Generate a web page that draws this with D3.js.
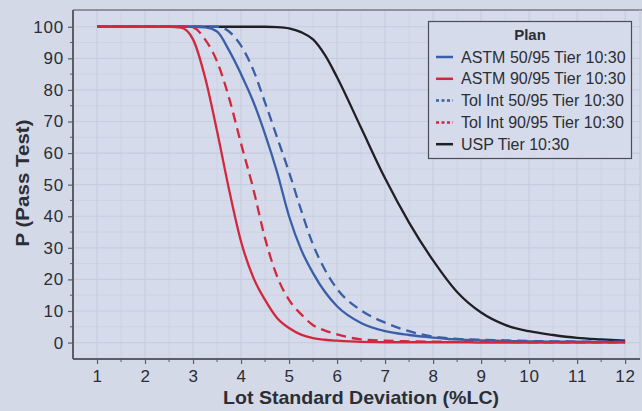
<!DOCTYPE html>
<html><head><meta charset="utf-8">
<script src="https://cdn.jsdelivr.net/npm/d3@7"></script>
<style>
html,body{margin:0;padding:0;background:#d4d9e8;}
svg{display:block;font-family:"Liberation Sans",Arial,sans-serif;}
</style></head>
<body><svg id="chart" width="642" height="411"></svg>
<script>
const xs = [1, 2, 2.5, 2.75, 3, 3.25, 3.5, 3.75, 4, 4.25, 4.5, 4.75, 5, 5.25, 5.5, 5.75, 6, 6.5, 7, 7.5, 8, 8.5, 9, 9.5, 10, 10.5, 11, 11.5, 12];
const astm5095 = [100, 100, 100, 100, 100, 99.8, 98.5, 92.5, 85, 76.5, 66, 54, 40, 29.5, 22, 16, 11.5, 6.2, 3.6, 2.4, 1.6, 1.0, 0.7, 0.5, 0.4, 0.3, 0.3, 0.2, 0.2];
const astm9095 = [100, 100, 100, 99.7, 96, 84, 67, 48.5, 32, 20.8, 13.5, 7.8, 4.6, 2.5, 1.4, 0.9, 0.6, 0.2, 0.1, 0.1, 0.1, 0.1, 0, 0, 0, 0, 0, 0, 0];
const tol5095 = [100, 100, 100, 100, 100, 100, 100, 98.5, 94, 86.5, 76, 65, 54, 42, 31, 23, 17, 10.2, 6.3, 3.6, 1.9, 1.2, 0.9, 0.7, 0.5, 0.4, 0.3, 0.3, 0.3];
const tol9095 = [100, 100, 100, 100, 99.7, 96, 89, 77.5, 63, 49, 33, 21, 13.5, 9, 5.5, 3.8, 2.6, 1.0, 0.6, 0.4, 0.3, 0.2, 0.2, 0.2, 0.1, 0.1, 0.1, 0.1, 0.1];
const usp = [100, 100, 100, 100, 100, 100, 100, 100, 100, 100, 100, 99.9, 99.5, 98.3, 96, 91, 84, 68, 52, 38, 26, 16, 9.5, 5.6, 3.6, 2.4, 1.5, 1.0, 0.6];
const seriesNames = ["ASTM 50/95 Tier 10:30", "ASTM 90/95 Tier 10:30", "Tol Int 50/95 Tier 10:30", "Tol Int 90/95 Tier 10:30", "USP Tier 10:30"];
const xTicks = [1,2,3,4,5,6,7,8,9,10,11,12];
const yTicks = [0,10,20,30,40,50,60,70,80,90,100];

const series = [
  {name: seriesNames[0], values: astm5095, color: "#3b5fa6", dash: null},
  {name: seriesNames[1], values: astm9095, color: "#d2283e", dash: null},
  {name: seriesNames[2], values: tol5095, color: "#3b5fa6", dash: "10,6"},
  {name: seriesNames[3], values: tol9095, color: "#d2283e", dash: "10,6"},
  {name: seriesNames[4], values: usp, color: "#1f1f24", dash: null}
];

const svg = d3.select("#chart");
const L = 73, R = 640, T = 10, B = 359;
const x = d3.scaleLinear().domain([0.5, 12.31]).range([L, R]);
const y = d3.scaleLinear().domain([-5.2, 105.3]).range([B, T]);

svg.append("rect").attr("x", L).attr("y", T).attr("width", R - L).attr("height", B - T).attr("fill", "#d5dbea");

const g = svg.append("g");
const minorX = d3.range(1.5, 12.4, 1);
const minorY = d3.range(-5, 105, 10);
g.selectAll(".mx").data(minorX).enter().append("line")
  .attr("x1", d => x(d)).attr("x2", d => x(d)).attr("y1", T).attr("y2", B)
  .attr("stroke", "#cdd3e3").attr("stroke-width", 1);
g.selectAll(".my").data(minorY).enter().append("line")
  .attr("y1", d => y(d)).attr("y2", d => y(d)).attr("x1", L).attr("x2", R)
  .attr("stroke", "#cdd3e3").attr("stroke-width", 1);
g.selectAll(".gx").data(xTicks).enter().append("line")
  .attr("x1", d => x(d)).attr("x2", d => x(d)).attr("y1", T).attr("y2", B)
  .attr("stroke", "#c6cddf").attr("stroke-width", 1.2);
g.selectAll(".gy").data(yTicks).enter().append("line")
  .attr("y1", d => y(d)).attr("y2", d => y(d)).attr("x1", L).attr("x2", R)
  .attr("stroke", "#c6cddf").attr("stroke-width", 1.2);

svg.append("line").attr("x1", L).attr("x2", 642).attr("y1", T).attr("y2", T).attr("stroke", "#8d929e").attr("stroke-width", 2);
svg.append("line").attr("x1", R).attr("x2", R).attr("y1", T).attr("y2", B).attr("stroke", "#c3c9d9").attr("stroke-width", 1);

const line = d3.line().x((d, i) => x(xs[i])).y(d => y(d)).curve(d3.curveMonotoneX);
const order = [4, 2, 0, 3, 1];
order.forEach(k => {
  const s = series[k];
  svg.append("path").datum(s.values).attr("d", line)
    .attr("fill", "none").attr("stroke", s.color).attr("stroke-width", 2.3)
    .attr("stroke-dasharray", s.dash).attr("stroke-linejoin", "round");
});

const axisColor = "#5a5e68";
const xAxis = d3.axisBottom(x).tickValues(xTicks).tickSize(5).tickPadding(6).tickFormat(d3.format("d"));
const xa = svg.append("g").attr("transform", `translate(0,${B})`).call(xAxis);
xa.select(".domain").attr("d", `M${L},0H${R}`);
const xMinor = svg.append("g").attr("transform", `translate(0,${B})`);
xMinor.selectAll("line").data(minorX).enter().append("line")
  .attr("x1", d => x(d)).attr("x2", d => x(d)).attr("y1", 0).attr("y2", 3).attr("stroke", axisColor);

const yAxis = d3.axisLeft(y).tickValues(yTicks).tickSize(5).tickPadding(4);
const ya = svg.append("g").attr("transform", `translate(${L},0)`).call(yAxis);
ya.select(".domain").attr("d", `M0,${T}V${B}`);
const yMinor = svg.append("g").attr("transform", `translate(${L},0)`);
yMinor.selectAll("line").data(d3.range(5, 100, 10)).enter().append("line")
  .attr("y1", d => y(d)).attr("y2", d => y(d)).attr("x1", 0).attr("x2", -3).attr("stroke", axisColor);

[xa, ya].forEach(a => {
  a.selectAll(".domain").attr("stroke", axisColor).attr("stroke-width", 2);
  a.selectAll(".tick line").attr("stroke", axisColor).attr("stroke-width", 1.2);
  a.selectAll(".tick text").attr("fill", "#2b2e35").attr("font-size", 17).attr("letter-spacing", "0.8px")
    .attr("font-family", "Liberation Sans, Arial, sans-serif");
});

svg.append("text").attr("x", x(6.5)).attr("y", 404).attr("text-anchor", "middle")
  .attr("font-size", 19).attr("font-weight", "bold").attr("fill", "#2b2e35")
  .attr("textLength", 276).attr("lengthAdjust", "spacingAndGlyphs")
  .text("Lot Standard Deviation (%LC)");
svg.append("text").attr("transform", `translate(29,183) rotate(-90)`).attr("text-anchor", "middle")
  .attr("font-size", 19).attr("font-weight", "bold").attr("fill", "#2b2e35")
  .attr("textLength", 127).attr("lengthAdjust", "spacingAndGlyphs")
  .text("P (Pass Test)");

const lg = svg.append("g");
lg.append("rect").attr("x", 428.5).attr("y", 21.5).attr("width", 203).attr("height", 137)
  .attr("fill", "#d5dbea").attr("stroke", "#4a4e58").attr("stroke-width", 1.2);
lg.append("text").attr("x", 530).attr("y", 40).attr("text-anchor", "middle")
  .attr("font-size", 15).attr("font-weight", "bold").attr("fill", "#2b2e35").text("Plan");
series.forEach((s, i) => {
  const cy = 57 + i * 21.8;
  lg.append("line").attr("x1", 436).attr("x2", 453).attr("y1", cy).attr("y2", cy)
    .attr("stroke", s.color).attr("stroke-width", 2.5).attr("stroke-dasharray", s.dash ? "3,2.5" : null);
  lg.append("text").attr("x", 461).attr("y", cy + 5.5).attr("font-size", 16).attr("fill", "#2b2e35").text(s.name);
});
</script></body></html>
